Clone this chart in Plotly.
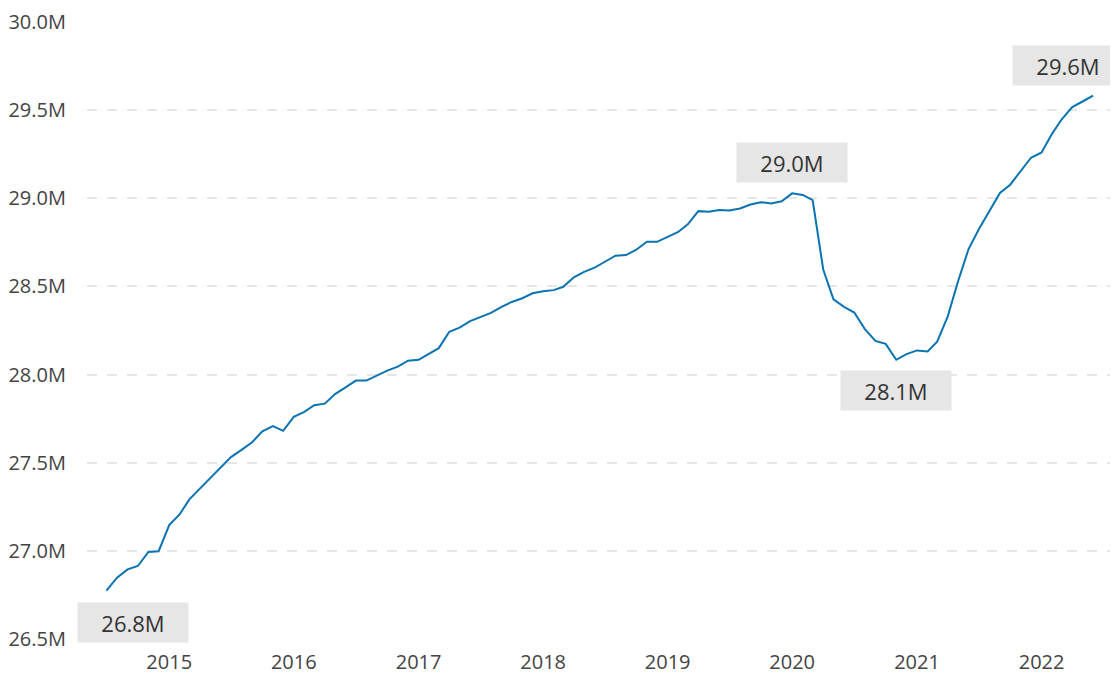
import pandas as pd
import plotly.graph_objects as go

# monthly values, in millions, Jul 2014 - Jun 2022
months = pd.date_range("2014-07-01", "2022-06-01", freq="MS")
values = [
    26.774, 26.848, 26.895, 26.914, 26.994, 26.998,
    27.146, 27.208, 27.292, 27.354, 27.416, 27.478, 27.532, 27.573, 27.616, 27.678, 27.708, 27.681,
    27.760, 27.788, 27.826, 27.835, 27.889, 27.927, 27.966, 27.966, 27.994, 28.022, 28.045, 28.079,
    28.084, 28.118, 28.150, 28.243, 28.266, 28.303, 28.324, 28.350, 28.384, 28.412, 28.433, 28.461,
    28.472, 28.479, 28.498, 28.552, 28.583, 28.607, 28.640, 28.674, 28.678, 28.708, 28.754, 28.753,
    28.781, 28.809, 28.852, 28.927, 28.923, 28.933, 28.931, 28.942, 28.965, 28.978, 28.970, 28.983,
    29.028, 29.019, 28.990, 28.596, 28.427, 28.384, 28.352, 28.258, 28.191, 28.174, 28.084, 28.116,
    28.137, 28.131, 28.187, 28.330, 28.528, 28.712, 28.824, 28.927, 29.030, 29.077, 29.152, 29.230,
    29.260, 29.367, 29.448, 29.517, 29.549, 29.583,
]

# points that get a callout label: (index, x shift px, y shift px)
callouts = [(0, 27, -32), (66, 0, 31), (76, 0, -31), (95, -25, 30)]

FONT = "Segoe UI, Open Sans, sans-serif"

fig = go.Figure()
fig.add_trace(go.Scatter(
    x=months, y=values, mode="lines",
    line=dict(color="#0a73b1", width=2),
    hoverinfo="x+y",
))

for i, dx, dy in callouts:
    fig.add_annotation(
        x=months[i], y=values[i], text=f"{values[i]:.1f}M",
        showarrow=False, xshift=dx, yshift=dy,
        width=108, height=37, bgcolor="#e6e6e6",
        font=dict(family=FONT, size=22, color="#333333"),
    )

fig.update_xaxes(
    range=["2014-05-05", "2022-08-13"],
    dtick="M12", tick0="2015-01-01", tickformat="%Y",
    showgrid=False, showline=False, zeroline=False,
    tickfont=dict(family=FONT, size=20, color="#444444"),
    ticklabelstandoff=9,
)
fig.update_yaxes(
    range=[26.5, 30.0], dtick=0.5, tickformat=".1f", ticksuffix="M",
    showgrid=True, gridcolor="#e6e6e6", gridwidth=2, griddash="10px,10px",
    zeroline=False, showline=False,
    tickfont=dict(family=FONT, size=20, color="#444444"),
    ticklabelstandoff=20, ticklabeloverflow="allow",
)
# the page body adds 8px around the figure, so size it to fit the window
fig.update_layout(
    width=1110, height=667,
    margin=dict(l=76, r=0, t=11, b=34),
    plot_bgcolor="white", paper_bgcolor="white",
    showlegend=False,
)

fig.write_html("out.html")
